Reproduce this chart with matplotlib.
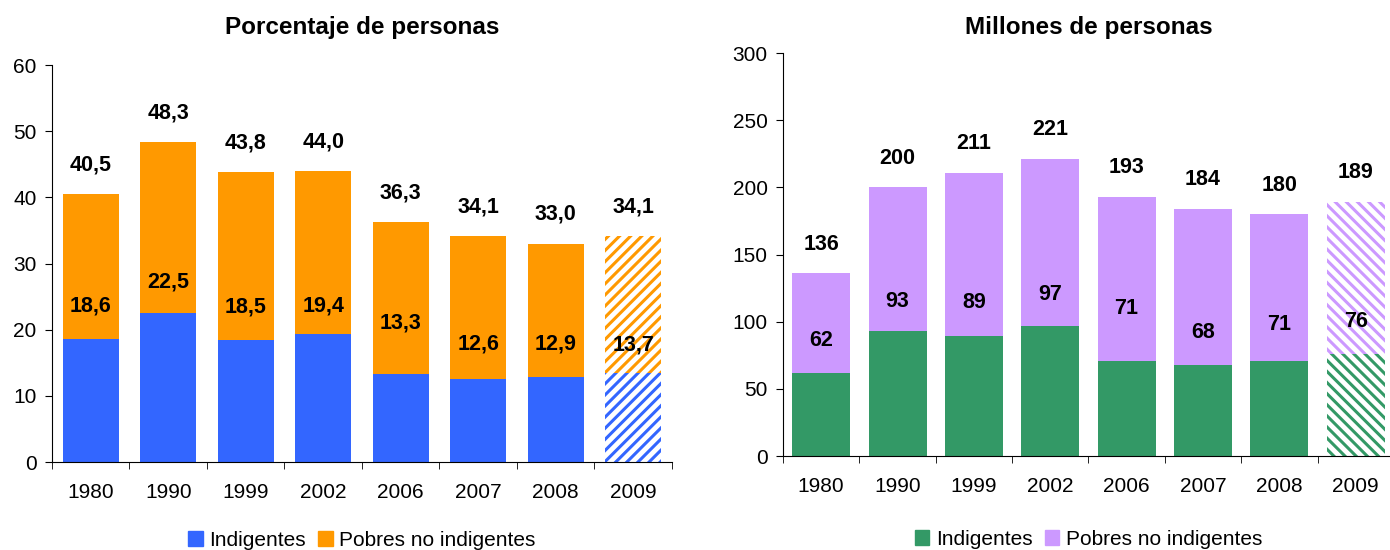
import numpy as np
import matplotlib.pyplot as plt
from matplotlib.patches import Patch

plt.rcParams['font.family'] = ['Liberation Sans', 'DejaVu Sans']
plt.rcParams['hatch.linewidth'] = 2.2

years = ["1980", "1990", "1999", "2002", "2006", "2007", "2008", "2009"]

# porcentaje de personas
pct_indig = [18.6, 22.5, 18.5, 19.4, 13.3, 12.6, 12.9, 13.4]
pct_total = [40.5, 48.3, 43.8, 44.0, 36.3, 34.1, 33.0, 34.1]
pct_label = ["18,6", "22,5", "18,5", "19,4", "13,3", "12,6", "12,9", "13,7"]
pct_label_y = [23.6, 27.2, 23.4, 23.6, 21.0, 17.8, 17.8, 17.7]

# millones de personas
mil_indig = [62, 93, 89, 97, 71, 68, 71, 76]
mil_total = [136, 200, 211, 221, 193, 184, 180, 189]
mil_label_y = [86, 115, 114, 120, 110, 92, 98, 100]


def draw_panel(ax, indig, total, labels, label_y, c_ind, c_pob, hatch,
               ymax, ystep, title, title_pad, leg_y, w):
    x = np.arange(len(years))
    pobres = [t - i for t, i in zip(total, indig)]
    for k in x:
        proj = k == len(years) - 1
        if proj:
            # 2009: proyeccion, barras rayadas
            ax.bar(k, indig[k], w, color="white", edgecolor=c_ind,
                   hatch=hatch, linewidth=0)
            ax.bar(k, pobres[k], w, bottom=indig[k], color="white",
                   edgecolor=c_pob, hatch=hatch, linewidth=0)
        else:
            ax.bar(k, indig[k], w, color=c_ind, linewidth=0)
            ax.bar(k, pobres[k], w, bottom=indig[k], color=c_pob, linewidth=0)
        ax.annotate(labels[k], (k, label_y[k]), ha="center", va="center",
                    fontsize=15.5, fontweight="bold")
        tot = total[k]
        tot_txt = f"{tot:.1f}".replace(".", ",") if isinstance(tot, float) else str(tot)
        ax.annotate(tot_txt, (k, tot), xytext=(0, 21), textcoords="offset points",
                    ha="center", va="center", fontsize=15.5, fontweight="bold")

    ax.set_xlim(-0.5, len(years) - 0.5)
    ax.set_ylim(0, ymax)
    ax.set_yticks(np.arange(0, ymax + 1, ystep))
    ax.set_xticks(x)
    ax.set_xticklabels(years)
    ax.set_xticks(np.arange(-0.5, len(years), 1), minor=True)
    ax.tick_params(axis="x", which="major", length=0, pad=15, labelsize=15)
    ax.tick_params(axis="x", which="minor", length=5, direction="out")
    ax.tick_params(axis="y", length=5, direction="out", labelsize=15, pad=6)
    for s in ["top", "right"]:
        ax.spines[s].set_visible(False)
    ax.set_title(title, fontsize=17.5, fontweight="bold", pad=title_pad)

    handles = [Patch(color=c_ind, label="Indigentes"),
               Patch(color=c_pob, label="Pobres no indigentes")]
    ax.legend(handles=handles, loc="upper center", bbox_to_anchor=(0.5, leg_y),
              ncol=2, frameon=False, fontsize=15, handlelength=0.7,
              handleheight=0.7, handletextpad=0.3, columnspacing=0.6,
              borderaxespad=0)


fig = plt.figure(figsize=(13.9, 5.5), dpi=100)
ax1 = fig.add_axes([0.0374, 0.16, 0.446, 0.7218])
ax2 = fig.add_axes([0.5633, 0.1709, 0.4395, 0.7327], clip_on=False)

draw_panel(ax1, pct_indig, pct_total, pct_label, pct_label_y,
           "#3366FF", "#FF9900", "///", 60, 10, "Porcentaje de personas", 22, -0.152, 0.72)
draw_panel(ax2, mil_indig, mil_total, [str(v) for v in mil_indig], mil_label_y,
           "#339966", "#CC99FF", "\\\\\\", 300, 50, "Millones de personas", 13.5, -0.162, 0.76)

fig.savefig("out.png", dpi=100)
